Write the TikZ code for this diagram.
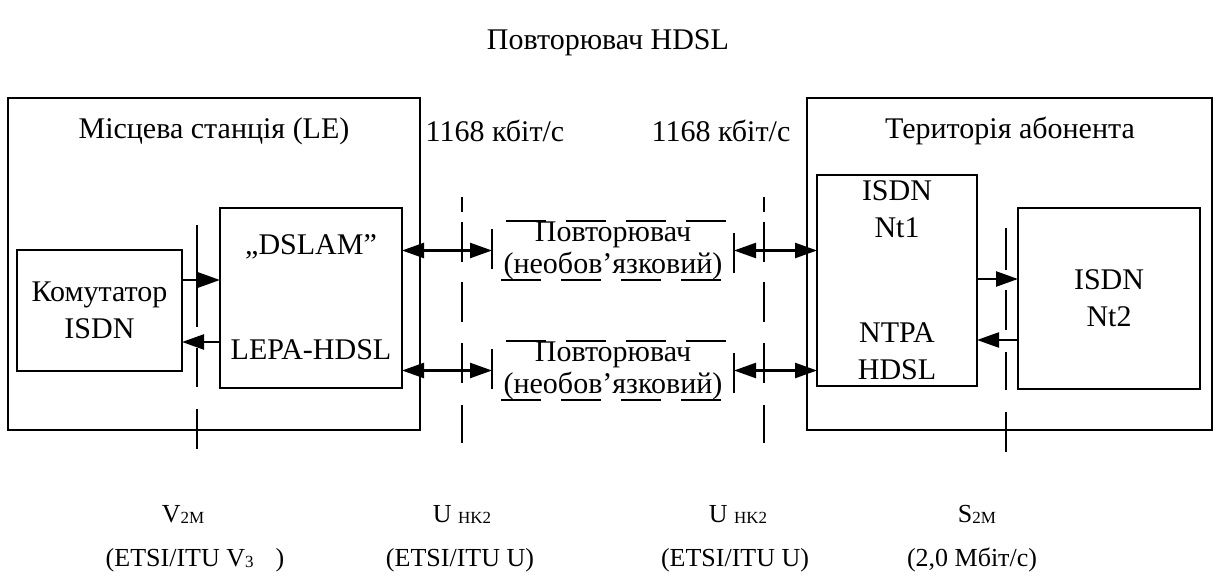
\documentclass[tikz,border=0pt]{standalone}
\usepackage{fontspec}
\setmainfont{Liberation Serif}
\usetikzlibrary{arrows.meta}
\newcommand\subs[1]{\raisebox{-1pt}{\fontsize{17}{17}\selectfont #1}}
\begin{document}
\begin{tikzpicture}[x=1pt,y=-1pt,
  box/.style={draw, line width=2.4pt, inner sep=0pt, outer sep=0pt},
  frame/.style={inner sep=0pt, outer sep=0pt},
  lbl/.style={font=\fontsize{30}{37}\selectfont, inner sep=0pt, align=center},
  blbl/.style={font=\fontsize{26}{30}\selectfont, inner sep=0pt},
  vline/.style={line width=2.4pt},
  arr/.style={line width=2.4pt, -{Triangle[length=22pt,width=15pt]}},
  darr/.style={line width=2.4pt, {Triangle[length=22pt,width=15pt]}-{Triangle[length=22pt,width=15pt]}},
  repframe/.style={line width=2.4pt, dash pattern=on 40pt off 20pt, dash phase=46pt}
]
\useasboundingbox (0,0) rectangle (1215,588);
\node[lbl] (title) at (608,43) {Повторювач HDSL};

% left side
\node[box, minimum width=412pt, minimum height=332pt] (le) at (214,264) {};
\node[lbl] (letxt) at (214,131) {Місцева станція (LE)};
\node[box, lbl, minimum width=165pt, minimum height=121pt] (kom) at (99.5,310.5) {Комутатор\\ISDN};
\node[box, minimum width=182pt, minimum height=180pt] (dslam) at (311,298) {};
\node[lbl] (dslamtxt) at (311,247) {„DSLAM”};
\node[lbl] (lepatxt) at (311,350) {LEPA-HDSL};

% repeaters
\node[frame, lbl, minimum width=242pt, minimum height=59pt] (rep1) at (613,250.5) {\raisebox{-3pt}{\shortstack{Повторювач}}\\[-2pt](необов’язковий)};
\draw[repframe] (rep1.north west) -- (rep1.north east) -- (rep1.south east) -- (rep1.south west) -- cycle;
\node[frame, lbl, minimum width=242pt, minimum height=59pt] (rep2) at (613,370.5) {\raisebox{-3pt}{\shortstack{Повторювач}}\\[-2pt](необов’язковий)};
\draw[repframe] (rep2.north west) -- (rep2.north east) -- (rep2.south east) -- (rep2.south west) -- cycle;

\node[lbl] (rate1) at (495,131) {1168 кбіт/с};
\node[lbl] (rate2) at (721,131) {1168 кбіт/с};

% right side
\node[box, minimum width=405pt, minimum height=332pt] (ter) at (1009.5,264) {};
\node[lbl] (tertxt) at (1010,131) {Територія абонента};
\node[box, minimum width=160pt, minimum height=211pt] (nt1) at (897,280.5) {};
\node[lbl] (nt1a) at (897,209) {ISDN\\Nt1};
\node[lbl] (nt1b) at (897,351) {NTPA\\HDSL};
\node[box, lbl, minimum width=182pt, minimum height=181pt] (nt2) at (1109,298.5) {ISDN\\Nt2};

% reference point lines
\coordinate (v1t) at (197,225); \coordinate (v1b) at (197,449);
\coordinate (v2t) at (462,197); \coordinate (v2b) at (462,443);
\coordinate (v3t) at (764,197); \coordinate (v3b) at (764,443);
\coordinate (v4t) at (1006,228); \coordinate (v4b) at (1006,452);
\draw[vline, dash pattern=on 102pt off 21pt on 39pt off 22pt on 40pt off 100pt] (v1t) -- (v1b);
\draw[vline, dash pattern=on 15pt off 10pt on 40pt off 20pt on 40pt off 21pt on 40pt off 22pt on 38pt off 100pt] (v2t) -- (v2b);
\draw[vline, dash pattern=on 15pt off 10pt on 40pt off 20pt on 40pt off 21pt on 40pt off 22pt on 38pt off 100pt] (v3t) -- (v3b);
\draw[vline, dash pattern=on 42pt off 20pt on 40pt off 22pt on 38pt off 22pt on 40pt off 100pt] (v4t) -- (v4b);

% connectors
\coordinate (ya) at (0,280); \coordinate (yb) at (0,342);
\coordinate (yc) at (0,279); \coordinate (yd) at (0,340);
\draw[arr] (kom.east |- ya) -- (dslam.west |- ya);
\draw[arr] (dslam.west |- yb) -- (kom.east |- yb);
\draw[darr] (dslam.east |- rep1.west) -- (rep1.west);
\draw[darr] (rep1.east) -- (nt1.west |- rep1.east);
\draw[darr] (dslam.east |- rep2.west) -- (rep2.west);
\draw[darr] (rep2.east) -- (nt1.west |- rep2.east);
\draw[arr] (nt1.east |- yc) -- (nt2.west |- yc);
\draw[arr] (nt2.west |- yd) -- (nt1.east |- yd);

% bottom labels
\node[blbl] (b1a) at (183,514) {V\subs{2M}};
\node[blbl] (b1b) at (195,560) {(ETSI/ITU V\subs{3}\hspace{22pt})};
\node[blbl] (b2a) at (462,514) {U \subs{HK2}};
\node[blbl] (b2b) at (460,560) {(ETSI/ITU U)};
\node[blbl] (b3a) at (738,514) {U \subs{HK2}};
\node[blbl] (b3b) at (735,560) {(ETSI/ITU U)};
\node[blbl] (b4a) at (977,514) {S\subs{2M}};
\node[blbl] (b4b) at (972,560) {(2,0 Мбіт/с)};
\end{tikzpicture}
\end{document}
